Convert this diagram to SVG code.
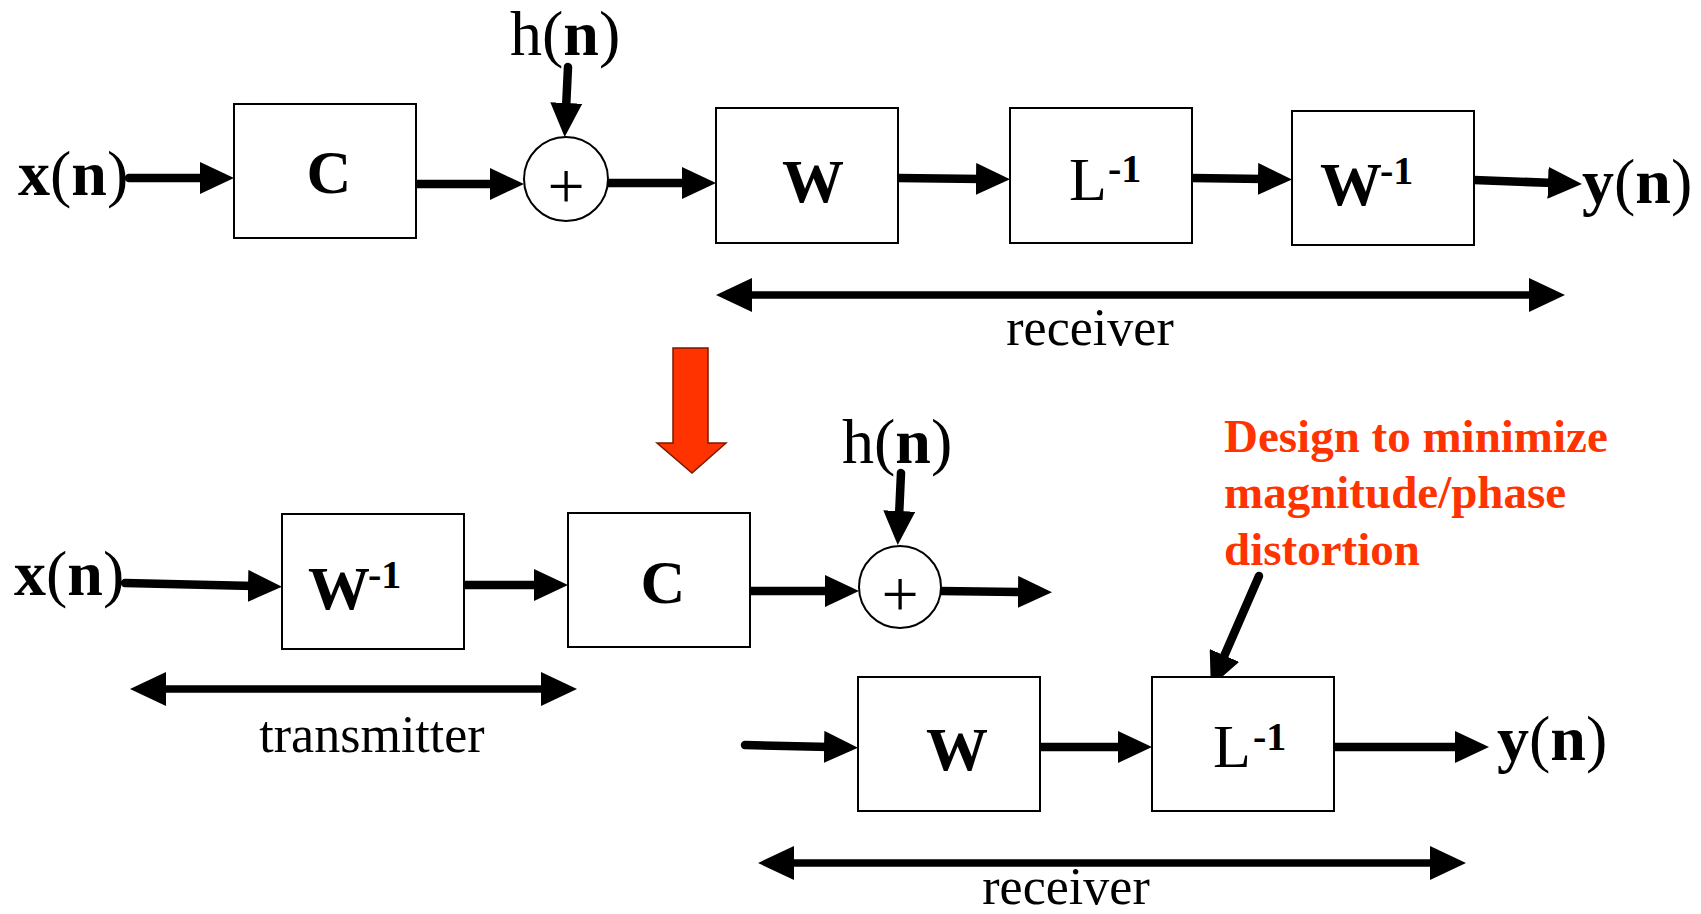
<svg xmlns="http://www.w3.org/2000/svg" width="1701" height="914" viewBox="0 0 1701 914">
<style>
.box{fill:#fff;stroke:#000;stroke-width:2}
.sum{fill:#fff;stroke:#000;stroke-width:2}
.t{font-family:"Liberation Serif","Times New Roman",serif;fill:#000}
.b{font-weight:bold}
.sig{font-size:64px}
.lab{font-size:62px}
.sup{font-size:40px;font-weight:bold}
.cap{font-size:52px}
.plus{font-size:66px}
.red{font-family:"Liberation Serif","Times New Roman",serif;font-weight:bold;font-size:47px;fill:#FF3300}
.c{fill:none;stroke:#000;stroke-width:8.5;stroke-linecap:round}
.d{fill:none;stroke:#000;stroke-width:7.5}
</style>
<defs>
<marker id="ah" viewBox="0 -16 34 32" refX="6" refY="0" markerWidth="34" markerHeight="32" markerUnits="userSpaceOnUse" orient="auto">
<path d="M0,-16 L34,0 L0,16 z" fill="#000"/>
</marker>
<marker id="dh" viewBox="0 -17 36 34" refX="6" refY="0" markerWidth="36" markerHeight="34" markerUnits="userSpaceOnUse" orient="auto-start-reverse">
<path d="M0,-17 L36,0 L0,17 z" fill="#000"/>
</marker>
</defs>

<g id="connectors">
<line class="c" x1="129" y1="178" x2="206" y2="178" marker-end="url(#ah)"/>
<line class="c" x1="416" y1="184" x2="496" y2="184" marker-end="url(#ah)"/>
<line class="c" x1="608" y1="183" x2="688" y2="183" marker-end="url(#ah)"/>
<line class="c" x1="898" y1="178" x2="982" y2="179" marker-end="url(#ah)"/>
<line class="c" x1="1192" y1="178" x2="1264" y2="179" marker-end="url(#ah)"/>
<line class="c" x1="1474" y1="180" x2="1554" y2="183" marker-end="url(#ah)"/>
<line class="c" x1="568" y1="67" x2="566" y2="109" marker-end="url(#ah)"/>
<line class="d" x1="746" y1="295" x2="1535" y2="295" marker-start="url(#dh)" marker-end="url(#dh)"/>

<line class="c" x1="125" y1="583" x2="254" y2="586" marker-end="url(#ah)"/>
<line class="c" x1="464" y1="585" x2="540" y2="585" marker-end="url(#ah)"/>
<line class="c" x1="750" y1="591" x2="831" y2="591" marker-end="url(#ah)"/>
<line class="c" x1="940" y1="591" x2="1024" y2="592" marker-end="url(#ah)"/>
<line class="c" x1="901" y1="473" x2="899" y2="517" marker-end="url(#ah)"/>
<line class="d" x1="160" y1="689" x2="547" y2="689" marker-start="url(#dh)" marker-end="url(#dh)"/>
<line class="c" x1="745" y1="745" x2="830" y2="747" marker-end="url(#ah)"/>
<line class="c" x1="1040" y1="747" x2="1124" y2="747" marker-end="url(#ah)"/>
<line class="c" x1="1334" y1="747" x2="1461" y2="747" marker-end="url(#ah)"/>
<line class="c" x1="1259" y1="576" x2="1222" y2="661" marker-end="url(#ah)" stroke-width="6"/>
<line class="d" x1="788" y1="863" x2="1436" y2="863" marker-start="url(#dh)" marker-end="url(#dh)"/>
</g>

<g id="top-x"><text class="t sig" x="18" y="195"><tspan class="b">x</tspan>(<tspan class="b">n</tspan>)</text></g>
<g id="top-h"><text class="t sig" x="510" y="55">h(<tspan class="b">n</tspan>)</text></g>
<g id="top-y"><text class="t sig" x="1582" y="203"><tspan class="b">y</tspan>(<tspan class="b">n</tspan>)</text></g>

<g id="top-C"><rect class="box" x="234" y="104" width="182" height="134"/><text class="t lab b" x="329" y="193" text-anchor="middle">C</text></g>
<g id="top-sum"><circle class="sum" cx="566" cy="179" r="42"/><text class="t plus" x="566" y="208" text-anchor="middle">+</text></g>
<g id="top-W"><rect class="box" x="716" y="108" width="182" height="135"/><text class="t lab b" x="813" y="202" text-anchor="middle">W</text></g>
<g id="top-Linv"><rect class="box" x="1010" y="108" width="182" height="135"/><text class="t lab" x="1069" y="200">L</text><text class="t sup" x="1108" y="182">-1</text></g>
<g id="top-Winv"><rect class="box" x="1292" y="111" width="182" height="134"/><text class="t lab b" x="1320" y="205">W</text><text class="t sup" x="1380" y="184">-1</text></g>
<g id="top-receiver"><text class="t cap" x="1090" y="345" text-anchor="middle">receiver</text></g>

<g id="red-arrow"><polygon points="673,348 708,348 708,443 726,443 692,473 657,443 673,443" fill="#FF3300" stroke="#7a1a00" stroke-width="1.5"/></g>

<g id="bot-x"><text class="t sig" x="14" y="595"><tspan class="b">x</tspan>(<tspan class="b">n</tspan>)</text></g>
<g id="bot-Winv"><rect class="box" x="282" y="514" width="182" height="135"/><text class="t lab b" x="308" y="609">W</text><text class="t sup" x="368" y="588">-1</text></g>
<g id="bot-C"><rect class="box" x="568" y="513" width="182" height="134"/><text class="t lab b" x="663" y="603" text-anchor="middle">C</text></g>
<g id="bot-h"><text class="t sig" x="842" y="463">h(<tspan class="b">n</tspan>)</text></g>
<g id="bot-sum"><circle class="sum" cx="900" cy="587" r="41"/><text class="t plus" x="900" y="616" text-anchor="middle">+</text></g>
<g id="transmitter"><text class="t cap" x="372" y="752" text-anchor="middle">transmitter</text></g>
<g id="bot-W"><rect class="box" x="858" y="677" width="182" height="134"/><text class="t lab b" x="957" y="770" text-anchor="middle">W</text></g>
<g id="bot-Linv"><rect class="box" x="1152" y="677" width="182" height="134"/><text class="t lab" x="1213" y="767">L</text><text class="t sup" x="1253" y="750">-1</text></g>
<g id="bot-y"><text class="t sig" x="1497" y="760"><tspan class="b">y</tspan>(<tspan class="b">n</tspan>)</text></g>
<g id="note"><text class="red" x="1224" y="452">Design to minimize</text><text class="red" x="1224" y="508">magnitude/phase</text><text class="red" x="1224" y="565">distortion</text></g>
<g id="bot-receiver"><text class="t cap" x="1066" y="904" text-anchor="middle">receiver</text></g>
</svg>
